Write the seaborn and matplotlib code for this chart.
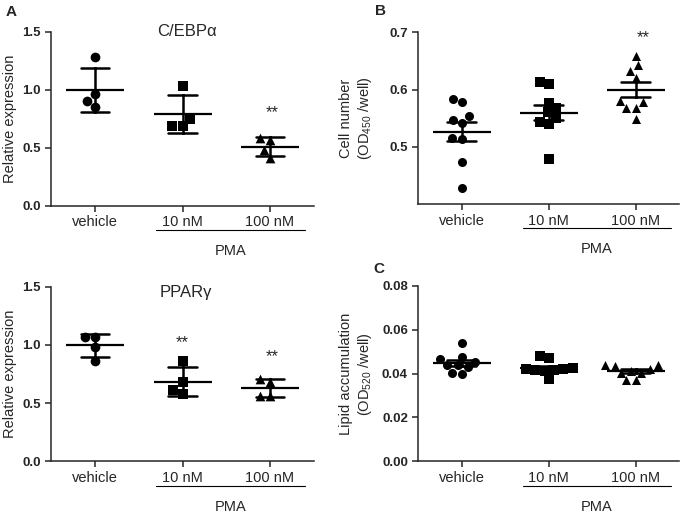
import numpy as np
import pandas as pd
import matplotlib
matplotlib.use('Agg')
import matplotlib.pyplot as plt
import seaborn as sns

groups = ['vehicle', '10 nM', '100 nM']
markers = ['o', 's', '^']

# A: relative expression (mean +/- SD)
cebpa_vehicle = [1.28, 0.96, 0.90, 0.85]
cebpa_10nm = [1.03, 0.75, 0.69, 0.69]
cebpa_100nm = [0.58, 0.57, 0.48, 0.41]

pparg_vehicle = [1.07, 1.07, 0.98, 0.86]
pparg_10nm = [0.86, 0.68, 0.58, 0.61]
pparg_100nm = [0.71, 0.68, 0.56, 0.56]

# B: cell number, OD450 (mean +/- SEM)
cell_vehicle = [0.584, 0.579, 0.553, 0.546, 0.542, 0.515, 0.513, 0.474, 0.428]
cell_10nm = [0.613, 0.609, 0.577, 0.568, 0.560, 0.550, 0.544, 0.539, 0.478]
cell_100nm = [0.659, 0.642, 0.633, 0.620, 0.580, 0.579, 0.568, 0.568, 0.549]

# C: lipid accumulation, OD520 (mean +/- SEM)
lipid_vehicle = [0.054, 0.0476, 0.0465, 0.0455, 0.044, 0.0438, 0.043, 0.0405, 0.0398]
lipid_10nm = [0.0482, 0.047, 0.0425, 0.042, 0.042, 0.0418, 0.0415, 0.0412, 0.0375]
lipid_100nm = [0.044, 0.044, 0.0435, 0.042, 0.041, 0.0405, 0.0405, 0.037, 0.037]


def make_df(*series):
    rows = []
    for g, vals in zip(groups, series):
        rows += [{'group': g, 'value': v} for v in vals]
    return pd.DataFrame(rows)


sns.set_style('ticks')
plt.rcParams['font.family'] = ['Liberation Sans', 'DejaVu Sans']
plt.rcParams['mathtext.default'] = 'regular'
plt.rcParams['axes.linewidth'] = 1.1


def draw_panel(ax, df, errorbar, dot_size, ylim, yticks, yfmt, ylabel):
    for g, m in zip(groups, markers):
        sns.swarmplot(data=df[df['group'] == g], x='group', y='value', order=groups,
                      marker=m, color='black', size=dot_size, linewidth=0, ax=ax)
    sns.pointplot(data=df, x='group', y='value', order=groups, errorbar=errorbar,
                  capsize=0.33, color='black', linestyle='none', marker='_',
                  markersize=42, markeredgewidth=1.6, err_kws={'linewidth': 1.8}, ax=ax)
    ax.set_xlim(-0.5, 2.5)
    ax.set_ylim(*ylim)
    ax.set_yticks(yticks)
    ax.set_yticklabels([yfmt.format(t) for t in yticks], fontweight='bold', fontsize=9.5)
    ax.set_xticks(range(3))
    ax.set_xticklabels(groups, fontsize=10.5)
    ax.set_xlabel('')
    ax.set_ylabel(ylabel, fontsize=10.5)
    ax.tick_params(axis='both', direction='out', length=4, width=1.1)
    ax.tick_params(axis='x', pad=3)
    sns.despine(ax=ax)
    # PMA bracket under the two treatment groups
    tr = ax.get_xaxis_transform()
    ax.plot([0.7, 2.4], [-0.14, -0.14], color='black', lw=0.8, transform=tr, clip_on=False)
    ax.text(1.55, -0.26, 'PMA', transform=tr, ha='center', va='center', fontsize=10.5)


fig = plt.figure(figsize=(6.85, 5.13), dpi=100)
W, H = 685, 513


def add_axes(left, top, width, bottom):
    return fig.add_axes([left / W, 1 - bottom / H, width / W, (bottom - top) / H])


ax1 = add_axes(51.25, 31.7, 262.5, 205.7)
draw_panel(ax1, make_df(cebpa_vehicle, cebpa_10nm, cebpa_100nm), 'sd', 7,
           (0, 1.5), [0.0, 0.5, 1.0, 1.5], '{:.1f}', 'Relative expression')
ax1.text(1.05, 1.5, 'C/EBPα', ha='center', va='center', fontsize=12)
ax1.text(2.03, 0.80, '**', ha='center', va='center', fontsize=12)
ax1.yaxis.set_label_coords(-0.13, 0.5)

ax2 = add_axes(51.25, 286.7, 262.5, 461.3)
draw_panel(ax2, make_df(pparg_vehicle, pparg_10nm, pparg_100nm), 'sd', 7,
           (0, 1.5), [0.0, 0.5, 1.0, 1.5], '{:.1f}', 'Relative expression')
ax2.text(1.04, 1.45, 'PPARγ', ha='center', va='center', fontsize=12)
ax2.text(1.0, 1.02, '**', ha='center', va='center', fontsize=12)
ax2.text(2.02, 0.90, '**', ha='center', va='center', fontsize=12)
ax2.yaxis.set_label_coords(-0.13, 0.5)

ax3 = add_axes(418.3, 32.3, 261, 204)
draw_panel(ax3, make_df(cell_vehicle, cell_10nm, cell_100nm), 'se', 6.5,
           (0.4, 0.7), [0.5, 0.6, 0.7], '{:.1f}', 'Cell number\n(OD$_{450}$ /well)')
ax3.text(2.09, 0.69, '**', ha='center', va='center', fontsize=12)
ax3.yaxis.set_label_coords(-0.17, 0.5)

ax4 = add_axes(418.3, 286, 261, 461.3)
draw_panel(ax4, make_df(lipid_vehicle, lipid_10nm, lipid_100nm), 'se', 6.5,
           (0, 0.08), [0.0, 0.02, 0.04, 0.06, 0.08], '{:.2f}',
           'Lipid accumulation\n(OD$_{520}$ /well)')
ax4.yaxis.set_label_coords(-0.17, 0.5)

fig.text(11.5 / W, 1 - 11.5 / H, 'A', fontweight='bold', fontsize=11, ha='center', va='center')
fig.text(381 / W, 1 - 11 / H, 'B', fontweight='bold', fontsize=11, ha='center', va='center')
fig.text(379 / W, 1 - 269 / H, 'C', fontweight='bold', fontsize=11, ha='center', va='center')

fig.savefig('out.png', dpi=100)
